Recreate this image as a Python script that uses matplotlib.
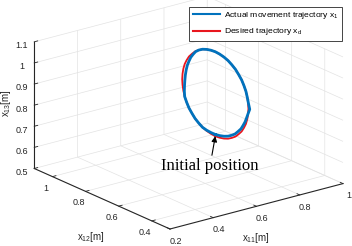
import matplotlib
matplotlib.use("Agg")
import matplotlib.pyplot as plt
from matplotlib.lines import Line2D
from matplotlib.ticker import FormatStrFormatter
from mpl_toolkits.mplot3d import proj3d

plt.rcParams['font.family'] = ['Liberation Sans', 'DejaVu Sans']
plt.rcParams['mathtext.fontset'] = 'custom'
plt.rcParams['mathtext.rm'] = 'Liberation Sans'
plt.rcParams['mathtext.it'] = 'Liberation Sans'
plt.rcParams['grid.color'] = '#e3e3e3'
plt.rcParams['grid.linewidth'] = 0.5

# axis ranges / ticks
x11_lim = [0.2, 1.0]
x12_lim = [0.29, 1.11]
x13_lim = [0.5, 1.1]
x11_ticks = [0.2, 0.4, 0.6, 0.8, 1.0]
x12_ticks = [0.4, 0.6, 0.8, 1.0]
x13_ticks = [0.5, 0.6, 0.7, 0.8, 0.9, 1.0, 1.1]

# desired trajectory x_d, read round the loop starting at the bottom (initial) point
x11_d = [0.8] * 49
x12_d = [0.800, 0.826, 0.852, 0.877, 0.900, 0.922, 0.941, 0.959, 0.973, 0.985, 0.993, 0.998,
         1.000, 0.998, 0.993, 0.985, 0.973, 0.959, 0.941, 0.922, 0.900, 0.877, 0.852, 0.826,
         0.800, 0.774, 0.748, 0.723, 0.700, 0.678, 0.659, 0.641, 0.627, 0.615, 0.607, 0.602,
         0.600, 0.602, 0.607, 0.615, 0.627, 0.641, 0.659, 0.678, 0.700, 0.723, 0.748, 0.774,
         0.800]
x13_d = [0.600, 0.602, 0.607, 0.615, 0.627, 0.641, 0.659, 0.678, 0.700, 0.723, 0.748, 0.774,
         0.800, 0.826, 0.852, 0.877, 0.900, 0.922, 0.941, 0.959, 0.973, 0.985, 0.993, 0.998,
         1.000, 0.998, 0.993, 0.985, 0.973, 0.959, 0.941, 0.922, 0.900, 0.877, 0.852, 0.826,
         0.800, 0.774, 0.748, 0.723, 0.700, 0.678, 0.659, 0.641, 0.627, 0.615, 0.607, 0.602,
         0.600]

# actual movement trajectory x_1
x11_a = [0.8] * 49
x12_a = [0.800, 0.826, 0.852, 0.877, 0.900, 0.922, 0.941, 0.959, 0.973, 0.985, 0.987, 0.986,
         0.984, 0.981, 0.976, 0.969, 0.959, 0.948, 0.934, 0.919, 0.900, 0.877, 0.852, 0.826,
         0.800, 0.774, 0.748, 0.723, 0.700, 0.678, 0.659, 0.641, 0.627, 0.615, 0.607, 0.600,
         0.592, 0.602, 0.611, 0.620, 0.632, 0.645, 0.662, 0.680, 0.701, 0.723, 0.748, 0.774,
         0.800]
x13_a = [0.608, 0.608, 0.610, 0.615, 0.627, 0.641, 0.659, 0.678, 0.700, 0.723, 0.748, 0.774,
         0.800, 0.826, 0.852, 0.877, 0.900, 0.922, 0.941, 0.959, 0.973, 0.985, 0.993, 0.998,
         1.000, 0.998, 0.993, 0.985, 0.973, 0.959, 0.941, 0.922, 0.900, 0.877, 0.852, 0.826,
         0.800, 0.776, 0.753, 0.731, 0.710, 0.689, 0.671, 0.653, 0.639, 0.627, 0.618, 0.612,
         0.608]

W, H = 352, 246
fig = plt.figure(figsize=(W / 100, H / 100), dpi=100)
ax = fig.add_axes([0, 0, 1, 1], projection='3d', proj_type='ortho')
ax.computed_zorder = False

ax.plot(x11_d, x12_d, x13_d, color='#e8161e', linewidth=1.3)
ax.plot(x11_a, x12_a, x13_a, color='#0072BD', linewidth=2.0)

ax.set_xlim(x11_lim)
ax.set_ylim(x12_lim)
ax.set_zlim(x13_lim)
ax.set_xticks(x11_ticks)
ax.set_yticks(x12_ticks)
ax.set_zticks(x13_ticks)
for axis in (ax.xaxis, ax.yaxis, ax.zaxis):
    axis.set_major_formatter(FormatStrFormatter('%g'))
    axis.set_pane_color((1, 1, 1, 0))
    axis.pane.set_edgecolor((1, 1, 1, 0))
    axis.line.set_color('#262626')
    axis.line.set_linewidth(0.8)
    axis._axinfo['tick']['inward_factor'] = 0.0
    axis._axinfo['tick']['outward_factor'] = 0.25
    axis._axinfo['tick']['linewidth'] = {True: 0.6, False: 0.4}
    axis._axinfo['tick']['color'] = '#262626'
ax.tick_params(labelsize=6.5, colors='#262626', pad=-3)

ax.set_box_aspect((220, 225, 136))
ax.view_init(elev=20, azim=-127.5)


def to_px(x, y, z):
    u, v, _ = proj3d.proj_transform(x, y, z, ax.get_proj())
    return ax.transData.transform((u, v))


# scale / move the axes so the box lands where it is in the picture
fig.canvas.draw()
front = to_px(x11_lim[0], x12_lim[0], x13_lim[0])
right = to_px(x11_lim[1], x12_lim[0], x13_lim[0])
s = 173 / (right[0] - front[0])
bb = ax.get_position(original=True)
cx, cy = (bb.x0 + bb.width / 2) * W, (bb.y0 + bb.height / 2) * H
ncx = 170 - s * (front[0] - cx)
ncy = (H - 229) - s * (front[1] - cy)
bw, bh = bb.width * W * s, bb.height * H * s
ax.set_position([(ncx - bw / 2) / W, (ncy - bh / 2) / H, bw / W, bh / H])

# start point of the loop
u0, v0, _ = proj3d.proj_transform(x11_d[0], x12_d[0], x13_d[0], ax.get_proj())
ax.annotate('Initial position', xy=(u0, v0), xycoords='data',
            xytext=(210 / W, 1 - 166 / H), textcoords='figure fraction',
            ha='center', va='center', fontsize=12, family='Liberation Serif',
            arrowprops=dict(arrowstyle='-|>', color='k', lw=0.8, mutation_scale=8,
                            shrinkA=0, shrinkB=0))

fig.text(6 / W, 1 - 103 / H, r'x$_\mathregular{13}$[m]', rotation=90, fontsize=7,
         ha='center', va='center', color='#262626')
fig.text(91 / W, 1 - 237 / H, r'x$_\mathregular{12}$[m]', fontsize=7,
         ha='center', va='center', color='#262626')
fig.text(256 / W, 1 - 238 / H, r'x$_\mathregular{11}$[m]', fontsize=7,
         ha='center', va='center', color='#262626')

handles = [Line2D([], [], color='#0072BD', linewidth=1.5),
           Line2D([], [], color='#e8161e', linewidth=1.5)]
labels = [r'Actual movement trajectory x$_\mathregular{1}$', r'Desired trajectory x$_\mathregular{d}$']
leg = fig.legend(handles, labels, loc='upper right', bbox_to_anchor=(342 / W, 1 - 7 / H),
                 fontsize=6.1, frameon=True, fancybox=False, edgecolor='#262626',
                 framealpha=1, borderaxespad=0, handlelength=3.2, handletextpad=0.5,
                 labelspacing=0.6, borderpad=0.4)
leg.get_frame().set_linewidth(0.6)

fig.savefig('out.png', dpi=100)
